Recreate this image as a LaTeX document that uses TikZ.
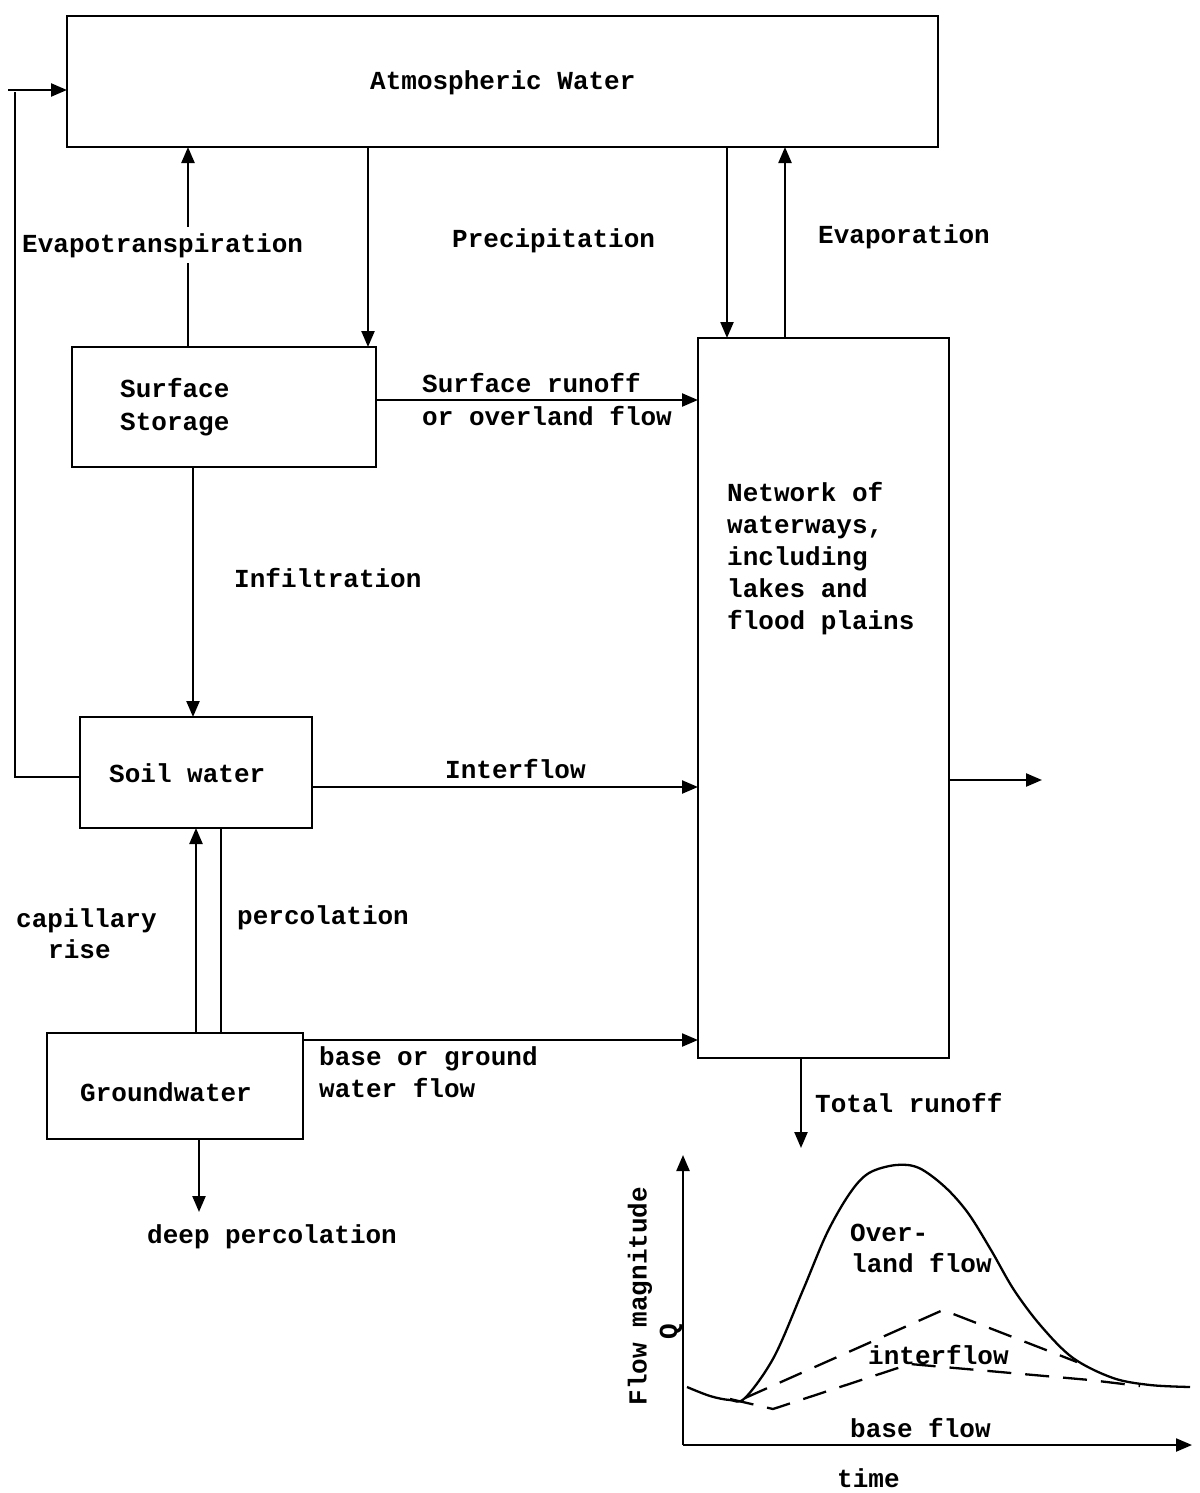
\documentclass[tikz,border=0pt]{standalone}
\usepackage{fontspec}
\setmainfont{Liberation Mono}
\usetikzlibrary{arrows.meta}
\begin{document}
\begin{tikzpicture}[x=1pt,y=-1pt,
  box/.style={draw,line width=2.6pt,inner sep=0pt,outer sep=0pt,anchor=north west},
  lbl/.style={font=\bfseries\fontsize{26}{32}\selectfont,inner sep=0pt,anchor=base west},
  clbl/.style={font=\bfseries\fontsize{26}{32}\selectfont,inner sep=0pt,anchor=center},
  arr/.style={line width=2.3pt,-{Triangle[length=16pt,width=13pt]}},
  ln/.style={line width=2.3pt},
  dsh/.style={line width=2.3pt,dash pattern=on 24pt off 14pt},
]
\useasboundingbox (0,0) rectangle (1199,1493);

% boxes
\node[box,minimum width=871pt,minimum height=131pt] (atm) at (67,16) {};
\node[box,minimum width=304pt,minimum height=120pt] (surf) at (72,347) {};
\node[box,minimum width=251pt,minimum height=720pt] (net) at (698,338) {};
\node[box,minimum width=232pt,minimum height=111pt] (soil) at (80,717) {};
\node[box,minimum width=256pt,minimum height=106pt] (gw) at (47,1033) {};

% box texts
\node[lbl] (atmt) at (370,90) {Atmospheric Water};
\node[lbl] (surft1) at (120,397) {Surface};
\node[lbl] (surft2) at (120,430) {Storage};
\node[lbl] (nett1) at (727,501) {Network of};
\node[lbl] (nett2) at (727,533) {waterways,};
\node[lbl] (nett3) at (727,565) {including};
\node[lbl] (nett4) at (727,597) {lakes and};
\node[lbl] (nett5) at (727,629) {flood plains};
\node[lbl] (soilt) at (109,782) {Soil water};
\node[lbl] (gwt) at (80,1101) {Groundwater};

% helper coordinates
\coordinate (xev) at (188,0);
\coordinate (xpl) at (368,0);
\coordinate (xpr) at (727,0);
\coordinate (xea) at (785,0);
\coordinate (xin) at (193,0);
\coordinate (xcap) at (196,0);
\coordinate (xper) at (221,0);
\coordinate (ysr) at (0,400);
\coordinate (yif) at (0,787);
\coordinate (ybf) at (0,1040);
\coordinate (ylp) at (0,777);
\coordinate (deep) at (199,1212);
\coordinate (tot) at (801,1148);
\coordinate (xtot) at (801,0);
\coordinate (outp) at (1042,780);
\coordinate (lp1) at (15,777);
\coordinate (lp2) at (15,92);
\coordinate (lp3) at (8,90);

% connectors
\draw[arr] (xev |- surf.north) -- (xev |- atm.south);
\node[lbl,fill=white,inner sep=6pt] (evt) at (16,252) {Evapotranspiration};
\draw[arr] (xpl |- atm.south) -- (xpl |- surf.north);
\draw[arr] (xpr |- atm.south) -- (xpr |- net.north);
\draw[arr] (xea |- net.north) -- (xea |- atm.south);
\node[lbl] (prt) at (452,247) {Precipitation};
\node[lbl] (evat) at (818,243) {Evaporation};

\draw[arr] (surf.east |- ysr) -- (net.west |- ysr);
\node[lbl] (srt1) at (422,392) {Surface runoff};
\node[lbl] (srt2) at (422,425) {or overland flow};

\draw[arr] (xin |- surf.south) -- (xin |- soil.north);
\node[lbl] (inft) at (234,587) {Infiltration};

\draw[arr] (soil.east |- yif) -- (net.west |- yif);
\node[lbl] (ift) at (445,778) {Interflow};

\draw[ln] (soil.west |- ylp) -- (lp1) -- (lp2);
\draw[arr] (lp3) -- (lp3 -| atm.west);

\draw[arr] (xcap |- gw.north) -- (xcap |- soil.south);
\draw[ln] (xper |- soil.south) -- (xper |- gw.north);
\node[lbl] (capt1) at (16,927) {capillary};
\node[lbl] (capt2) at (48,958) {rise};
\node[lbl] (pert) at (237,924) {percolation};

\draw[arr] (gw.east |- ybf) -- (net.west |- ybf);
\node[lbl] (bft1) at (319,1065) {base or ground};
\node[lbl] (bft2) at (319,1097) {water flow};

\draw[arr] (deep |- gw.south) -- (deep);
\node[lbl] (dpt) at (147,1243) {deep percolation};

\draw[arr] (xtot |- net.south) -- (tot);
\node[lbl] (trt) at (815,1112) {Total runoff};

\draw[arr] (net.east |- outp) -- (outp);

% graph
\coordinate (O) at (683,1445);
\coordinate (ytop) at (683,1155);
\coordinate (xend) at (1192,1445);
\draw[arr] (O) -- (ytop);
\draw[arr] (O) -- (xend);
\draw[ln] plot[smooth,tension=0.55] coordinates {(687,1387) (710,1396) (730,1400) (745,1398) (774,1357) (803,1290) (827,1233) (850,1193) (869,1173) (896,1165) (919,1168) (945,1187) (968,1213) (991,1250) (1014,1290) (1041,1326) (1073,1358) (1113,1378) (1150,1385) (1190,1387)};
\draw[dsh] (745,1398) -- (943,1310) -- (1077,1362);
\draw[dsh] (730,1399) -- (773,1409) -- (910,1364) -- (1090,1380) -- (1140,1386);

\node[lbl] (ovt1) at (850,1241) {Over-};
\node[lbl] (ovt2) at (851,1272) {land flow};
\node[lbl] (ifgt) at (868,1364) {interflow};
\node[lbl] (bfgt) at (850,1437) {base flow};
\node[lbl] (timet) at (837,1487) {time};
\node[clbl,rotate=90] (ylab) at (640,1296) {Flow magnitude};
\node[clbl,rotate=90] (qlab) at (671,1332) {Q};
\end{tikzpicture}
\end{document}
